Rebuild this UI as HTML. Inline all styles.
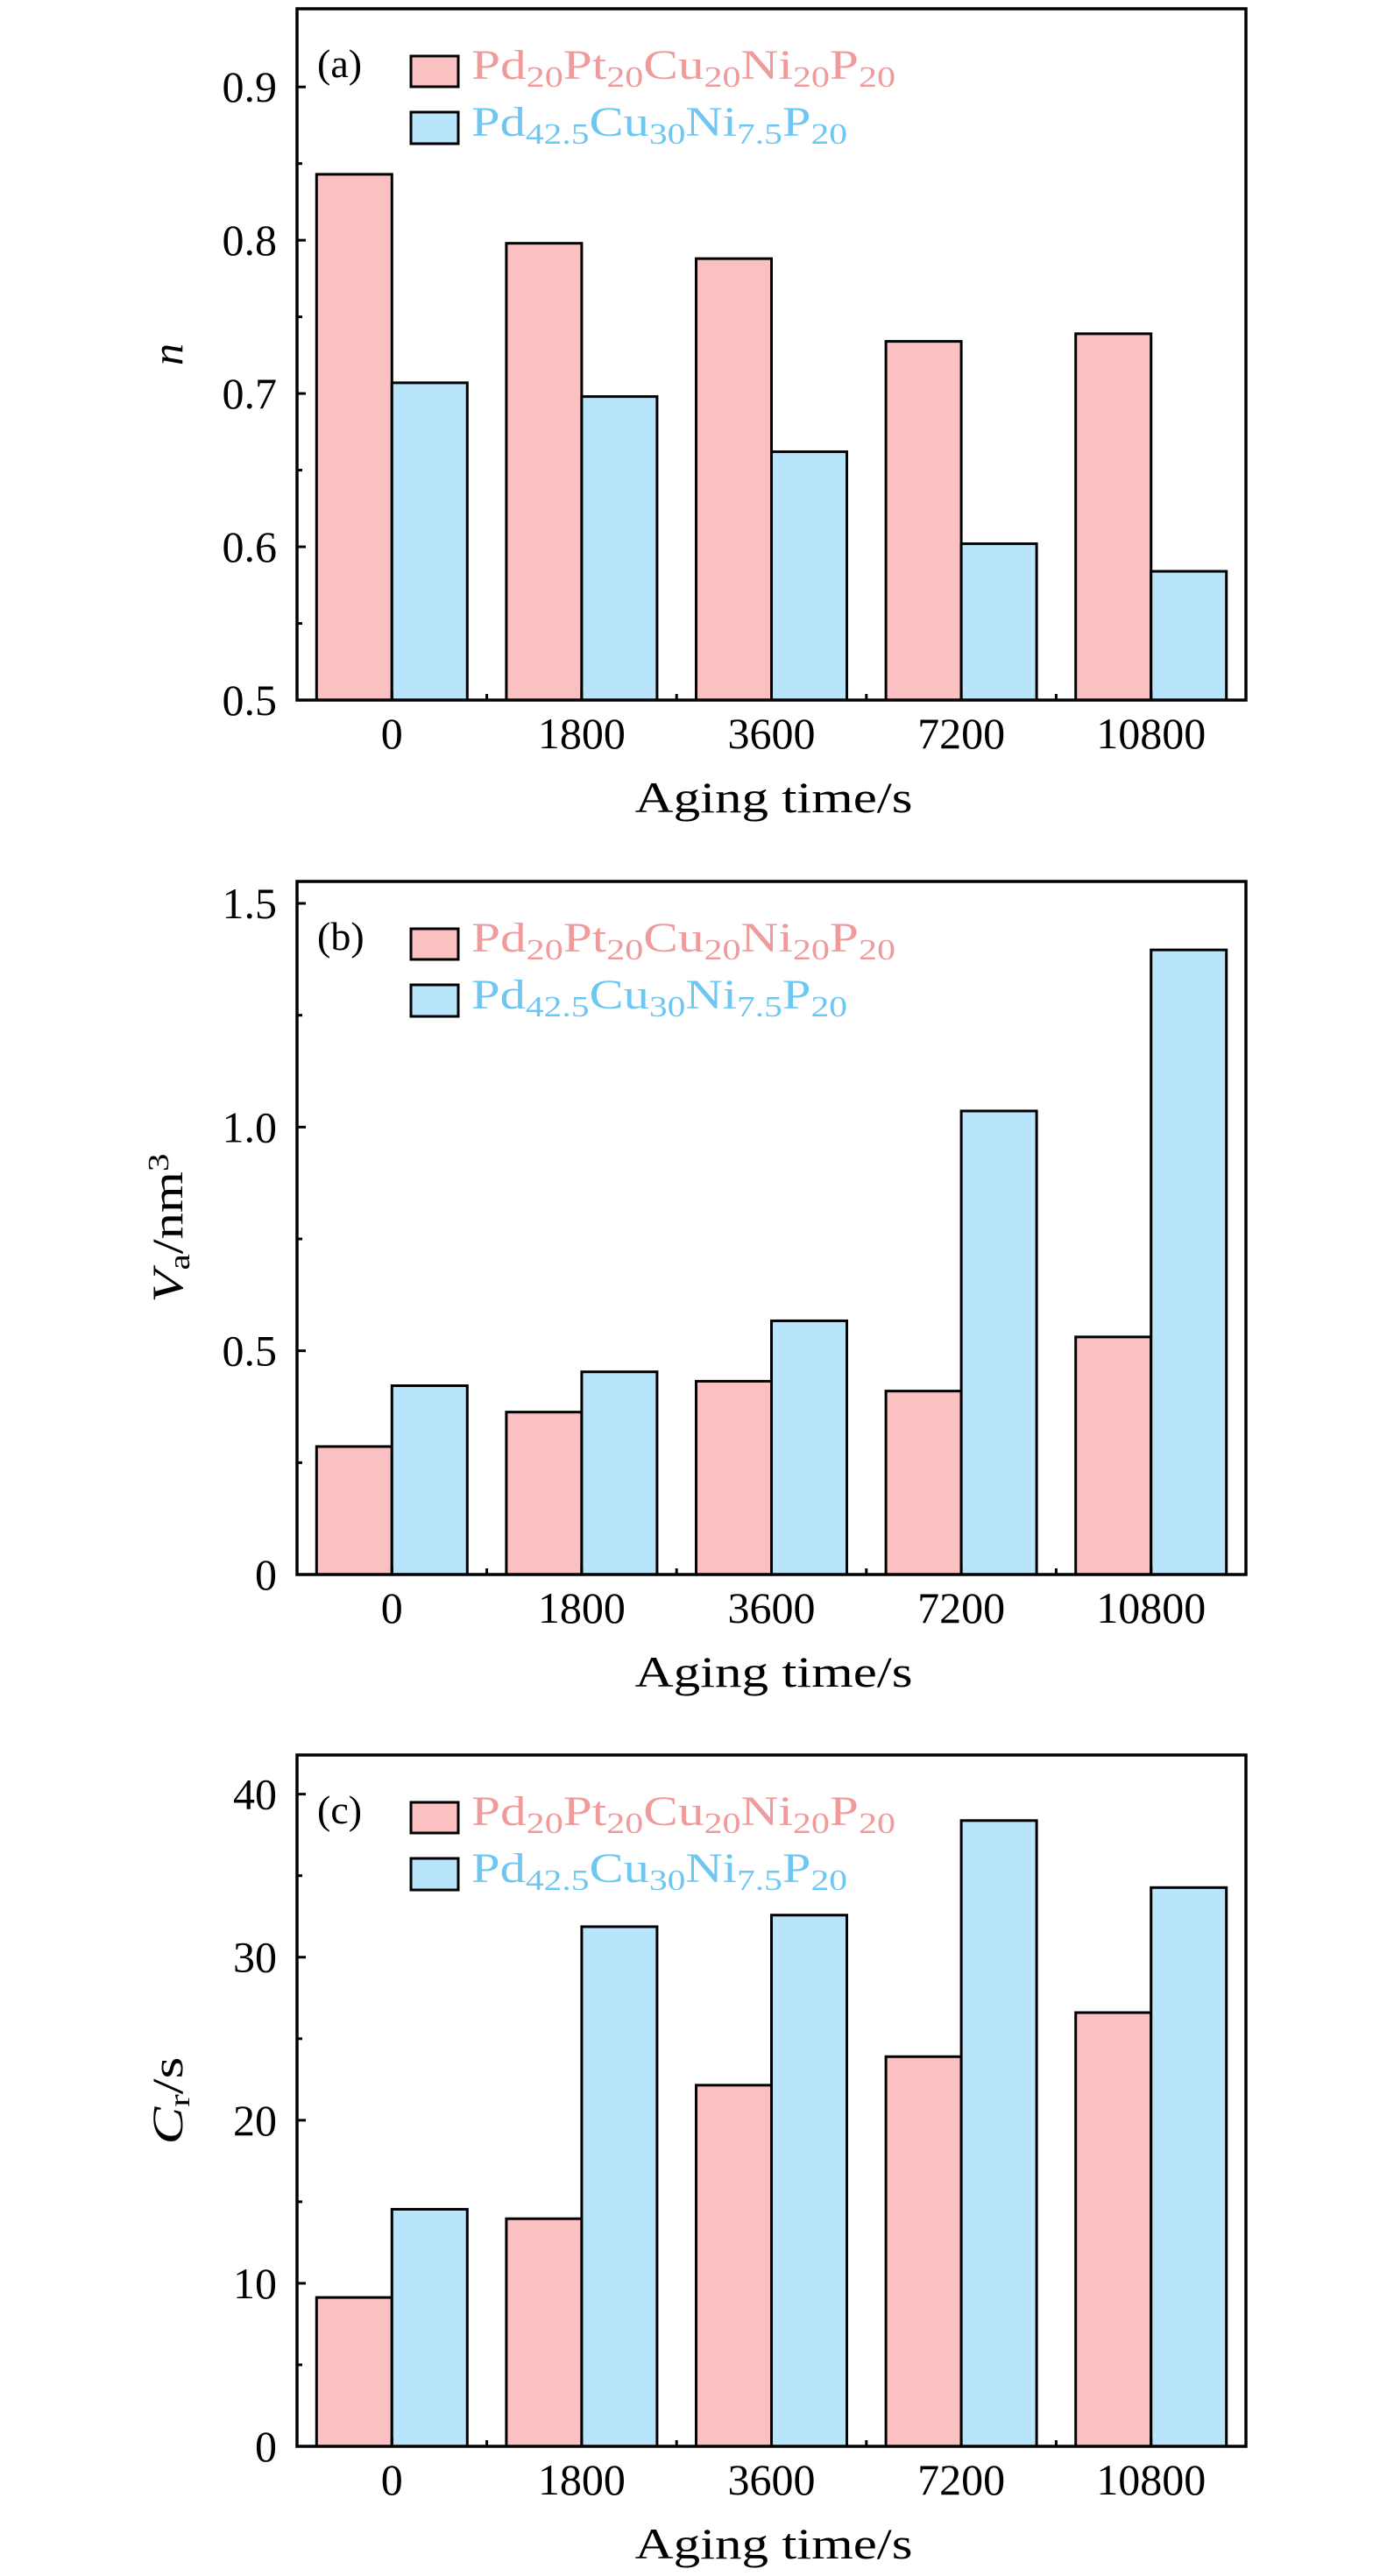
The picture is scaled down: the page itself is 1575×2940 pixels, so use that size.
<!DOCTYPE html>
<html><head><meta charset="utf-8">
<style>
html,body{margin:0;padding:0;background:#fff;}
svg{display:block;font-family:"Liberation Serif","DejaVu Serif",serif;}
</style></head>
<body>
<svg id="fig" width="1575" height="2940" viewBox="0 0 1575 2940" xmlns="http://www.w3.org/2000/svg"></svg>
<script>
const categories = ["0","1800","3600","7200","10800"];
const seriesNames = ["Pd20Pt20Cu20Ni20P20","Pd42.5Cu30Ni7.5P20"];
const nPink = [0.843,0.798,0.788,0.734,0.739];
const nBlue = [0.707,0.698,0.662,0.602,0.584];
const vaPink = [0.286,0.363,0.432,0.410,0.531];
const vaBlue = [0.422,0.453,0.567,1.036,1.396];
const crPink = [9.13,13.96,22.15,23.9,26.6];
const crBlue = [14.54,31.87,32.58,38.38,34.27];
const nTicks = [0.5,0.6,0.7,0.8,0.9];
const nTickLabels = ["0.5","0.6","0.7","0.8","0.9"];
const vaTicks = [0,0.5,1.0,1.5];
const vaTickLabels = ["0","0.5","1.0","1.5"];
const crTicks = [0,10,20,30,40];
const crTickLabels = ["0","10","20","30","40"];

const NS="http://www.w3.org/2000/svg";
const svg=document.getElementById('fig');
const PINK="#fbc0c1", BLUE="#b8e4fc", PINKT="#f09b9b", BLUET="#6ec7f2";
function mk(tag,attrs,parent){const e=document.createElementNS(NS,tag);for(const k in attrs)e.setAttribute(k,attrs[k]);(parent||svg).appendChild(e);return e;}

function panel(cfg){
  const g=mk('g',{});
  
  
  const L=339,R=1422,T=cfg.top,B=cfg.bottom;
  const y=v=>B-(v-cfg.min)/(cfg.max-cfg.min)*(B-T);
  const cw=(R-L)/categories.length;
  const xc=i=>L+(i+0.5)*cw;
  const bw=86;
  for(let i=0;i<categories.length;i++){
    const p=mk('rect',{x:xc(i)-bw,y:y(cfg.pink[i]),width:bw,height:B-y(cfg.pink[i]),fill:PINK,stroke:'#000','stroke-width':3},g);
    
    
    const b=mk('rect',{x:xc(i),y:y(cfg.blue[i]),width:bw,height:B-y(cfg.blue[i]),fill:BLUE,stroke:'#000','stroke-width':3},g);
    
    
  }
  const fr=mk('rect',{x:L,y:T,width:R-L,height:B-T,fill:'none',stroke:'#000','stroke-width':3.5},g);
  
  
  for(let k=0;k<cfg.ticks.length;k++){
    const v=cfg.ticks[k], yy=y(v);
    mk('line',{x1:L,x2:L+10,y1:yy,y2:yy,stroke:'#000','stroke-width':3},g);
    const t=mk('text',{x:316,y:yy+17,'text-anchor':'end','font-size':50,fill:'#000'},g);
    t.textContent=cfg.labels[k];
    
    
    const vm=v+cfg.step/2;
    if(y(vm)>T+2){mk('line',{x1:L,x2:L+6,y1:y(vm),y2:y(vm),stroke:'#000','stroke-width':3},g);}
  }
  for(let i=0;i<categories.length;i++){
    mk('line',{x1:xc(i),x2:xc(i),y1:B,y2:B-10,stroke:'#000','stroke-width':3},g);
    if(i>0) mk('line',{x1:L+i*cw,x2:L+i*cw,y1:B,y2:B-7,stroke:'#000','stroke-width':3},g);
    const t=mk('text',{x:xc(i),y:B+55,'text-anchor':'middle','font-size':50,fill:'#000'},g);
    t.textContent=categories[i];
    
    
  }
  const xl=mk('text',{x:883,y:B+128,'text-anchor':'middle','font-size':50,fill:'#000',textLength:317,lengthAdjust:'spacingAndGlyphs'},g);
  xl.textContent='Aging time/s';
  
  
  const yl=mk('text',{x:0,y:0,'text-anchor':'middle','font-size':50,fill:'#000',transform:`translate(208,${(T+B)/2}) rotate(-90)`},g);
  if(cfg.ylen){yl.setAttribute('textLength',cfg.ylen);yl.setAttribute('lengthAdjust','spacingAndGlyphs');}
  yl.innerHTML=cfg.ylabel;
  
  
  const pl=mk('text',{x:362,y:T+78,'font-size':46,fill:'#000'},g);
  pl.textContent='('+cfg.id+')';
  
  
  const lg=mk('g',{},g);
  
  
  const ly=T+54;
  const s1=mk('rect',{x:469,y:ly,width:54,height:35,fill:PINK,stroke:'#000','stroke-width':3},lg);
  
  
  const s2=mk('rect',{x:469,y:ly+64,width:54,height:36,fill:BLUE,stroke:'#000','stroke-width':3},lg);
  
  
  const t1=mk('text',{x:538,y:ly+26,'font-size':48,fill:PINKT,textLength:484,lengthAdjust:'spacingAndGlyphs'},lg);
  t1.innerHTML='Pd<tspan font-size="34" dy="9">20</tspan><tspan dy="-9">Pt</tspan><tspan font-size="34" dy="9">20</tspan><tspan dy="-9">Cu</tspan><tspan font-size="34" dy="9">20</tspan><tspan dy="-9">Ni</tspan><tspan font-size="34" dy="9">20</tspan><tspan dy="-9">P</tspan><tspan font-size="34" dy="9">20</tspan>';
  
  
  const t2=mk('text',{x:538,y:ly+91,'font-size':48,fill:BLUET,textLength:429,lengthAdjust:'spacingAndGlyphs'},lg);
  t2.innerHTML='Pd<tspan font-size="34" dy="9">42.5</tspan><tspan dy="-9">Cu</tspan><tspan font-size="34" dy="9">30</tspan><tspan dy="-9">Ni</tspan><tspan font-size="34" dy="9">7.5</tspan><tspan dy="-9">P</tspan><tspan font-size="34" dy="9">20</tspan>';
  
  
}

panel({id:'a',top:10,bottom:799,min:0.5,max:0.951,step:0.1,ticks:nTicks,labels:nTickLabels,pink:nPink,blue:nBlue,ylabel:'<tspan font-style="italic">n</tspan>'});
panel({id:'b',top:1006,bottom:1797,min:0,max:1.549,step:0.5,ticks:vaTicks,labels:vaTickLabels,pink:vaPink,blue:vaBlue,ylen:170,ylabel:'<tspan font-style="italic">V</tspan><tspan font-size="34" dy="8">a</tspan><tspan dy="-8">/nm</tspan><tspan font-size="34" dy="-16">3</tspan>'});
panel({id:'c',top:2003,bottom:2792,min:0,max:42.4,step:10,ticks:crTicks,labels:crTickLabels,pink:crPink,blue:crBlue,ylen:100,ylabel:'<tspan font-style="italic">C</tspan><tspan font-size="34" dy="8">r</tspan><tspan dy="-8">/s</tspan>'});
</script>
</body></html>
